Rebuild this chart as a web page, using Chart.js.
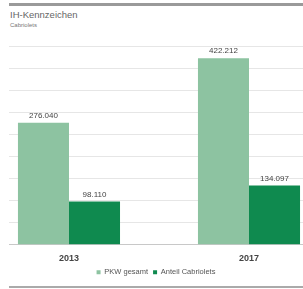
<!DOCTYPE html>
<html>
<head>
<meta charset="utf-8">
<script src="https://cdn.jsdelivr.net/npm/chart.js@4"></script>
<style>
  body { margin: 0; width: 303px; height: 289px; background: #fff; position: relative; overflow: hidden; font-family: "Liberation Sans", Arial, sans-serif; }
  .topbar { position: absolute; left: 9px; right: 0; top: 3px; height: 3px; background: #9a9a9a; }
  .title { position: absolute; left: 10px; top: 9px; font-size: 9.5px; color: #666; }
  .subtitle { position: absolute; left: 10px; top: 22px; font-size: 6px; color: #777; }
  .bottombar { position: absolute; left: 9px; right: 0; top: 286px; height: 2px; background: #aaa; }
  #wrap { position: absolute; left: 0; top: 40px; width: 303px; height: 246px; }
</style>
</head>
<body>
<div class="topbar"></div>
<div class="title">IH-Kennzeichen</div>
<div class="subtitle">Cabriolets</div>
<div id="wrap"><canvas id="chart"></canvas></div>
<div class="bottombar"></div>
<script>
// Data
const years = [2013, 2017];
const pkwGesamt = [276040, 422212];
const anteilCabriolets = [98110, 134097];
const seriesNames = ['PKW gesamt', 'Anteil Cabriolets'];

function fmt(v) {
    return String(v).replace(/\B(?=(\d{3})+(?!\d))/g, '.');
}

// value labels above bars
const valueLabels = {
    id: 'valueLabels',
    afterDatasetsDraw(chart) {
        const ctx = chart.ctx;
        ctx.save();
        ctx.font = '8px "Liberation Sans", Arial, sans-serif';
        ctx.fillStyle = '#444';
        ctx.textAlign = 'center';
        ctx.textBaseline = 'bottom';
        chart.data.datasets.forEach((ds, i) => {
            chart.getDatasetMeta(i).data.forEach((bar, j) => {
                ctx.fillText(fmt(ds.data[j].y), bar.x, bar.y - 3);
            });
        });
        ctx.restore();
    }
};

new Chart(document.getElementById('chart'), {
    type: 'bar',
    data: {
        datasets: [{
            label: seriesNames[0],
            data: years.map((y, i) => ({ x: y, y: pkwGesamt[i] })),
            backgroundColor: '#8dc3a1'
        }, {
            label: seriesNames[1],
            data: years.map((y, i) => ({ x: y, y: anteilCabriolets[i] })),
            backgroundColor: '#0f8a4f'
        }]
    },
    options: {
        responsive: true,
        maintainAspectRatio: false,
        animation: false,
        categoryPercentage: 0.567,
        barPercentage: 1,
        layout: { padding: { left: 9, right: 0, top: 6, bottom: 0 } },
        plugins: {
            tooltip: { enabled: false },
            legend: {
                position: 'bottom',
                labels: {
                    boxWidth: 4,
                    boxHeight: 4,
                    padding: 5,
                    color: '#555',
                    font: { size: 7.5, family: '"Liberation Sans", Arial, sans-serif' }
                }
            }
        },
        scales: {
            x: {
                type: 'linear',
                offset: false,
                min: 2011.667,
                max: 2018.2,
                grid: { display: false },
                border: { display: true, color: '#c8c8c8' },
                afterBuildTicks(axis) {
                    axis.ticks = years.map(v => ({ value: v }));
                },
                ticks: {
                    color: '#444',
                    padding: 0,
                    font: { size: 9, weight: 'bold', family: '"Liberation Sans", Arial, sans-serif' },
                    callback: v => String(v)
                }
            },
            y: {
                min: 0,
                max: 450000,
                ticks: { display: false, stepSize: 50000 },
                border: { display: false },
                grid: { color: '#e6e6e6', drawTicks: false }
            }
        }
    },
    plugins: [valueLabels]
});
</script>
</body>
</html>
